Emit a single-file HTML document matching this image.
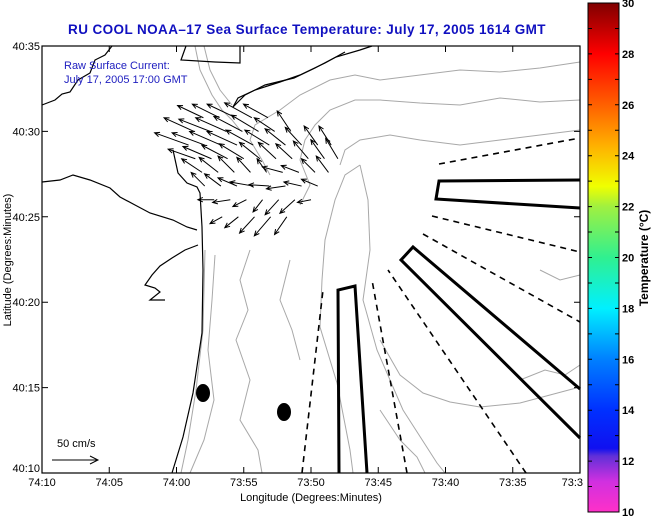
<!DOCTYPE html>
<html><head><meta charset="utf-8"><style>
body{margin:0;background:#fff;}
svg{display:block;font-family:"Liberation Sans",sans-serif;}
</style></head><body>
<svg width="651" height="518" viewBox="0 0 651 518" xmlns="http://www.w3.org/2000/svg">
<defs>
<linearGradient id="cb" x1="0" y1="1" x2="0" y2="0">
<stop offset="0" stop-color="#ff30c8"/><stop offset="0.06" stop-color="#d030e0"/>
<stop offset="0.11" stop-color="#6030d8"/><stop offset="0.125" stop-color="#1010f0"/>
<stop offset="0.2" stop-color="#0030ff"/><stop offset="0.3" stop-color="#0080ff"/>
<stop offset="0.4" stop-color="#00f0ff"/><stop offset="0.5" stop-color="#30f090"/>
<stop offset="0.6" stop-color="#a0f040"/><stop offset="0.64" stop-color="#f0ff00"/>
<stop offset="0.72" stop-color="#ffb000"/><stop offset="0.8" stop-color="#ff6000"/>
<stop offset="0.9" stop-color="#ff0000"/><stop offset="1" stop-color="#800000"/>
</linearGradient>
</defs>
<text x="307" y="34" text-anchor="middle" font-size="13.5" letter-spacing="0.4" font-weight="bold" fill="#1010c0">RU COOL  NOAA–17  Sea Surface Temperature:  July 17, 2005 1614 GMT</text>
<g id="contours" fill="none" stroke="#a8a8a8" stroke-width="1">
<polyline points="580,62 540,68 500,72 460,70 420,75 380,80 355,75 330,80 300,95 280,110 255,125 250,140 262,160 270,175"/>
<polyline points="580,100 540,102 500,98 460,105 420,103 380,100 355,100 330,110 315,125 305,140 300,160 310,185 300,205"/>
<polyline points="580,130 540,135 500,140 460,145 420,140 390,135 360,140 345,150 340,165"/>
<polyline points="360,165 345,175 335,200 325,240 322,280 320,327 337,383 350,450 353,473"/>
<polyline points="360,165 368,200 370,250 363,300 377,350 403,410 437,463 445,473"/>
<polyline points="380,340 400,375 423,393 450,402 480,407 520,403 550,395 580,387"/>
<polyline points="380,410 400,440 417,457 425,473"/>
<polyline points="205,250 203,330 196,390 188,440 181,473"/>
<polyline points="215,255 212,300 208,350 214,400 204,440 190,473"/>
<polyline points="250,250 240,280 248,310 236,340 250,380 240,420 258,450 262,473"/>
<polyline points="290,260 280,300 292,330 300,360"/>
<polyline points="195,46 200,70 212,95 222,110 232,120 240,130"/>
<polyline points="204,46 210,70 220,90 232,105"/>
<polyline points="540,270 560,280 580,275"/>
<polyline points="520,380 545,370 565,375 580,365"/>
</g>
<g fill="none" stroke="#000" stroke-width="1.2">
<polyline points="42,105 55,100 62,94 70,92 78,80 90,73 95,60 105,55 112,46"/>
<polyline points="42,182 60,180 73,175 90,180 110,188 120,197 135,205 150,213 173,220 187,227 197,230"/>
<polyline points="173,150 178,173 187,183 197,187 200,193 202,227 203,270 202,333 193,393 183,437 172,473"/>
<polyline points="198,245 185,250 172,258 160,266 152,275 145,285 155,288 160,292 150,300 165,300"/>
<polyline points="233,107 245,95 265,85 294,78 315,68 336,57 360,50 372,46"/>
<polyline points="233,107 238,98 255,90 280,82 300,75 325,63 345,52"/>
<polyline points="186,46 181,60 215,62 240,63 240,46"/>
</g>
<g id="arrows" stroke="#000" fill="none" stroke-width="1"></g>
<g fill="none" stroke="#000" stroke-width="1.6" stroke-dasharray="6,5">
<line x1="302" y1="473" x2="323" y2="290"/>
<line x1="407" y1="473" x2="372" y2="280"/>
<line x1="526" y1="473" x2="388" y2="270"/>
<line x1="439" y1="164" x2="580" y2="138"/>
<line x1="432" y1="216" x2="580" y2="252"/>
<line x1="423" y1="234" x2="580" y2="322"/>
</g>
<g fill="none" stroke="#000" stroke-width="3">
<polyline points="339,473 338,290 355,286 367,473"/>
<polyline points="580,180 439,181 436,199 580,208"/>
<polyline points="580,389 413,247 401,260 580,438"/>
</g>
<ellipse cx="203" cy="393" rx="7" ry="9" fill="#000"/>
<ellipse cx="284" cy="412" rx="7" ry="9" fill="#000"/>
<text x="64" y="69" font-size="11" fill="#2020c0">Raw Surface Current:</text>
<text x="64" y="83" font-size="11" fill="#2020c0">July 17, 2005 17:00 GMT</text>
<text x="57" y="447" font-size="11" fill="#000">50 cm/s</text>
<g stroke="#000" fill="none"><line x1="52" y1="460" x2="98" y2="460"/><polyline points="90,456 98,460 90,464"/></g>
<rect x="42" y="46" width="538" height="427" fill="none" stroke="#000" stroke-width="1.2"/>
<g id="axes" font-size="11" fill="#000"></g>
<text x="311" y="501" text-anchor="middle" font-size="11">Longitude (Degrees:Minutes)</text>
<text transform="translate(11,260) rotate(-90)" text-anchor="middle" font-size="11">Latitude (Degrees:Minutes)</text>
<rect x="588" y="3" width="31" height="509" fill="url(#cb)" stroke="#000"/>
<g id="cbticks" font-size="11" font-weight="bold"></g>
<text transform="translate(648,258) rotate(-90)" text-anchor="middle" font-size="12" font-weight="bold">Temperature (°C)</text>
</svg>
<script>
// arrow data: x = minutes east of 74:10W, y = minutes north of 40:10N, u/v in cm/s
const arrowX=[12.0,13.2,14.4,15.6,16.8, 11.3,12.5,13.7,14.9,16.1,17.3,18.5, 10.9,12.1,13.3,14.5,15.7,16.9,18.1,19.3,20.5,21.5, 11.4,12.6,13.8,15.0,16.2,17.4,18.6,19.8,21.0,22.0, 11.9,13.1,14.3,15.5,16.7,17.9,19.1,20.3,21.3, 12.1,13.3,14.5,15.7,16.9,18.1,19.3,20.5, 12.8,14.0,15.2,16.4,17.6,18.8,20.0, 13.4,14.6,15.8,17.0,18.2];
const arrowY=[20.8,20.8,20.8,20.8,20.8, 20.0,20.0,20.0,20.0,20.0,20.0,20.0, 19.2,19.2,19.2,19.2,19.2,19.2,19.2,19.2,19.2,19.2, 18.4,18.4,18.4,18.4,18.4,18.4,18.4,18.4,18.4,18.4, 17.6,17.6,17.6,17.6,17.6,17.6,17.6,17.6,17.6, 16.8,16.8,16.8,16.8,16.8,16.8,16.8,16.8, 16.0,16.0,16.0,16.0,16.0,16.0,16.0, 15.0,15.0,15.0,15.0,15.0];
const arrowU=[-38,-40,-42,-40,-36, -44,-46,-45,-42,-40,-30,-20, -50,-48,-46,-44,-40,-36,-30,-24,-20,-18, -40,-42,-38,-36,-30,-26,-24,-22,-20,-18, -30,-28,-24,-20,-14,-30,-26,-20,-18, -20,-24,-28,-34,-30,-28,-26,-24, -24,-26,-20,-14,-20,-22,-20, -18,-20,-22,-24,-18];
const arrowV=[18,20,20,22,20, 20,18,20,22,24,20,30, 18,18,20,20,22,22,24,26,28,28, 14,18,20,22,24,24,22,26,28,30, 20,22,24,22,20,8,10,20,24, 20,18,12,6,2,-4,6,10, 0,-4,-10,-18,-22,-20,-4, -10,-16,-24,-28,-26];
const lonTicks=["74:10","74:05","74:00","73:55","73:50","73:45","73:40","73:35","73:3"];
const latTicks=["40:10","40:15","40:20","40:25","40:30","40:35"];
const cbValues=[10,12,14,16,18,20,22,24,26,28,30];
const NS="http://www.w3.org/2000/svg";
const x0=42,x1=580,y0=473,y1=46;
const xs=m=>x0+m*(x1-x0)/40, ys=m=>y0-m*(y0-y1)/25;
const cmScale=0.68;
const ag=document.getElementById('arrows');
for(let i=0;i<arrowX.length;i++){
  const px=xs(arrowX[i]),py=ys(arrowY[i]);
  const dx=arrowU[i]*cmScale,dy=-arrowV[i]*cmScale;
  const ex=px+dx,ey=py+dy,L=Math.hypot(dx,dy),ux=dx/L,uy=dy/L,h=5;
  const p=document.createElementNS(NS,'path');
  p.setAttribute('d',`M${px},${py}L${ex},${ey}M${ex-h*ux+h*0.45*uy},${ey-h*uy-h*0.45*ux}L${ex},${ey}L${ex-h*ux-h*0.45*uy},${ey-h*uy+h*0.45*ux}`);
  
  
  ag.appendChild(p);
}
const ax=document.getElementById('axes');
function add(tag,attrs,txt,name){const e=document.createElementNS(NS,tag);for(const k in attrs)e.setAttribute(k,attrs[k]);if(txt)e.textContent=txt;

return e;}
lonTicks.forEach((t,i)=>{const x=xs(i*5);
  ax.appendChild(add('path',{d:`M${x},${y0}v-6M${x},${y1}v6`,stroke:'#000'},null,'x-tick'));
  ax.appendChild(add('text',{x:x,y:y0+13,'text-anchor':i==8?'end':'middle',dx:i==8?3:0},t,'x-tick-label'));});
latTicks.forEach((t,i)=>{const y=ys(i*5);
  ax.appendChild(add('path',{d:`M${x0},${y}h6M${x1},${y}h-6`,stroke:'#000'},null,'y-tick'));
  ax.appendChild(add('text',{x:x0-2,y:y+(i==0?-1:4),'text-anchor':'end'},t,'y-tick-label'));});
const cg=document.getElementById('cbticks');
const cy=v=>512-(v-10)*509/20;
for(let v=10;v<=30;v++){cg.appendChild(add('path',{d:`M588,${cy(v)}h4M619,${cy(v)}h-4`,stroke:'#000'},null,'colorbar-tick'));}
cbValues.forEach(v=>{cg.appendChild(add('text',{x:622,y:cy(v)+4},String(v),'colorbar-tick-label'));});
</script>
</body></html>
